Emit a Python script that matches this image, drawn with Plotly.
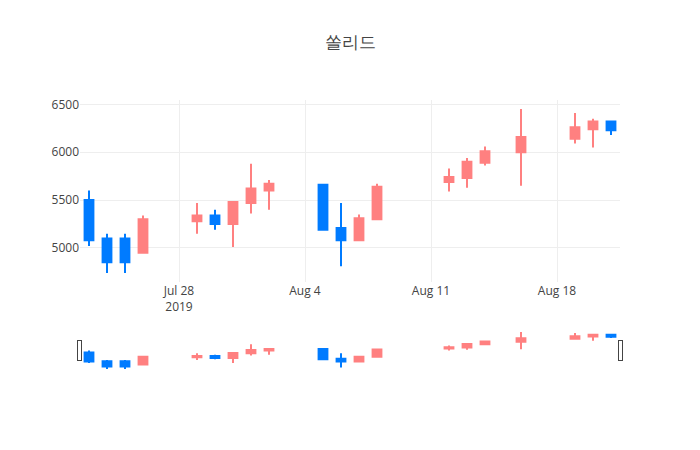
import plotly.graph_objects as go

# daily OHLC
dates = [
    "2019-07-23", "2019-07-24", "2019-07-25", "2019-07-26",
    "2019-07-29", "2019-07-30", "2019-07-31", "2019-08-01", "2019-08-02",
    "2019-08-05", "2019-08-06", "2019-08-07", "2019-08-08",
    "2019-08-12", "2019-08-13", "2019-08-14", "2019-08-16",
    "2019-08-19", "2019-08-20", "2019-08-21",
]
open_ = [5500, 5100, 5100, 4950, 5280, 5340, 5250, 5470, 5600,
         5660, 5210, 5080, 5300, 5690, 5730, 5890, 6000, 6140, 6240, 6320]
high = [5600, 5150, 5150, 5340, 5470, 5400, 5480, 5880, 5710,
        5670, 5470, 5350, 5670, 5830, 5940, 6060, 6450, 6410, 6350, 6330]
low = [5020, 4740, 4740, 4950, 5150, 5190, 5010, 5360, 5400,
       5180, 4810, 5080, 5300, 5590, 5630, 5860, 5650, 6090, 6050, 6180]
close = [5080, 4850, 4850, 5300, 5340, 5250, 5480, 5620, 5670,
         5190, 5080, 5310, 5640, 5740, 5900, 6010, 6160, 6260, 6320, 6230]

fig = go.Figure(go.Candlestick(
    x=dates,
    open=open_,
    high=high,
    low=low,
    close=close,
    increasing_line_color="#ff8080",
    increasing_fillcolor="#ff8080",
    decreasing_line_color="#007bff",
    decreasing_fillcolor="#007bff",
))

# the page adds an 8px body margin, so pull the plot up/left to line up
fig.update_layout(
    template="none",
    title=dict(text="쏠리드", x=0.4886, y=0.924, yanchor="middle"),
    width=700,
    height=450,
    margin=dict(l=72, r=88, t=92, b=88),
    showlegend=False,
)

fig.write_html("out.html")
